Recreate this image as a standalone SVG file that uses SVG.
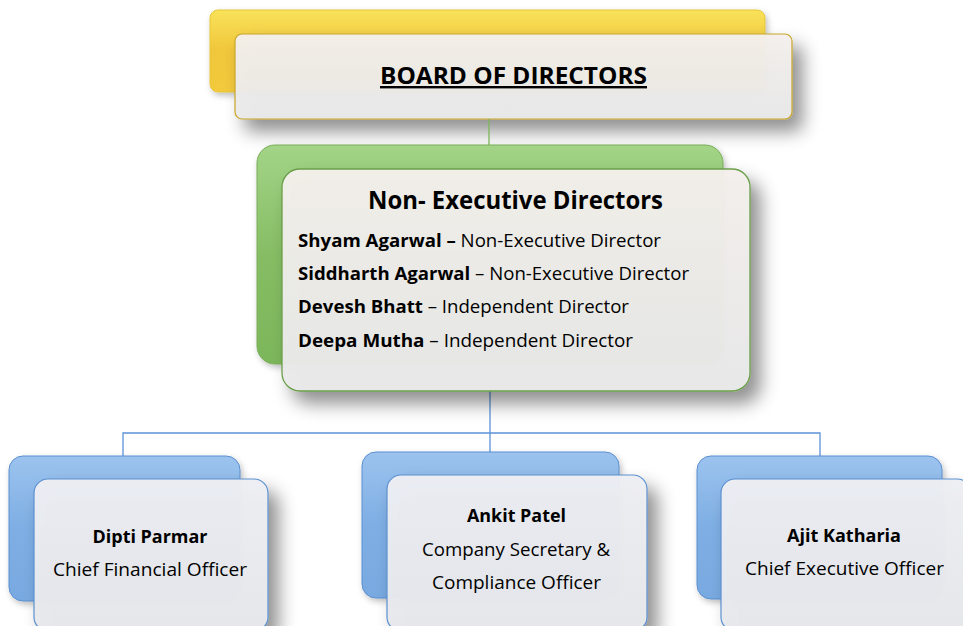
<svg xmlns="http://www.w3.org/2000/svg" width="963" height="626" viewBox="0 0 963 626">
<defs>
<linearGradient id="gy" x1="0" y1="0" x2="0" y2="1"><stop offset="0" stop-color="#f9e25a"/><stop offset="0.5" stop-color="#f0c63a"/><stop offset="1" stop-color="#f3c93c"/></linearGradient>
<linearGradient id="gg" x1="0" y1="0" x2="0" y2="1"><stop offset="0" stop-color="#a3d487"/><stop offset="0.5" stop-color="#86bd64"/><stop offset="1" stop-color="#7cb65a"/></linearGradient>
<linearGradient id="gb" x1="0" y1="0" x2="0" y2="1"><stop offset="0" stop-color="#9cc3ee"/><stop offset="0.5" stop-color="#7eaee4"/><stop offset="1" stop-color="#78a9e0"/></linearGradient>
<linearGradient id="gw" x1="0" y1="0" x2="0" y2="1"><stop offset="0" stop-color="#f4f0ec"/><stop offset="1" stop-color="#e9e9ea"/></linearGradient>
<linearGradient id="gwb" x1="0" y1="0" x2="0" y2="1"><stop offset="0" stop-color="#eeeff3"/><stop offset="1" stop-color="#e7e8ec"/></linearGradient>
<filter id="sh" x="-20%" y="-20%" width="150%" height="160%"><feDropShadow dx="10" dy="12" stdDeviation="9" flood-color="#000" flood-opacity="0.45"/></filter>
<filter id="sh2" x="-20%" y="-20%" width="150%" height="160%"><feDropShadow dx="2" dy="3" stdDeviation="3" flood-color="#000" flood-opacity="0.25"/></filter>
</defs>
<style>
.t{font-family:"Open Sans",Lato,"Liberation Sans",sans-serif;fill:#000}
.b{font-weight:bold}
.c{text-anchor:middle}
.conn{fill:none;stroke-width:1.3}
</style>
<rect width="963" height="626" fill="#fff"/>
<g id="board">
<rect x="210" y="10" width="555" height="82" rx="8" fill="url(#gy)" stroke="#e6c53a" stroke-width="1" filter="url(#sh2)"/>
<rect x="235" y="34" width="557" height="85" rx="7" fill="url(#gw)" fill-opacity="0.96" stroke="#c8a42a" stroke-width="1.2" filter="url(#sh)"/>
<text class="t b c" x="513.5" y="84" font-size="24" textLength="267" lengthAdjust="spacingAndGlyphs" text-decoration="underline">BOARD OF DIRECTORS</text>
</g>
<g id="connectors">
<line class="conn" x1="489" y1="119" x2="489" y2="147" stroke="#7cb65a"/>
<polyline class="conn" points="490,391 490,452" stroke="#5b93d8"/>
<polyline class="conn" points="123,456 123,433 820,433 820,456" stroke="#5b93d8"/>
</g>
<g id="ned">
<rect x="257" y="145" width="466" height="219" rx="18" fill="url(#gg)" stroke="#78ad58" stroke-width="1" filter="url(#sh2)"/>
<rect x="282" y="169" width="468" height="222" rx="18" fill="url(#gw)" fill-opacity="0.96" stroke="#6a9f4a" stroke-width="1.3" filter="url(#sh)"/>
<text class="t b c" x="515.5" y="209" font-size="25" textLength="295" lengthAdjust="spacingAndGlyphs">Non- Executive Directors</text>
<text class="t" x="298" y="247" font-size="18" textLength="363" lengthAdjust="spacingAndGlyphs"><tspan class="b">Shyam Agarwal –</tspan> Non-Executive Director</text>
<text class="t" x="298" y="280" font-size="18" textLength="391" lengthAdjust="spacingAndGlyphs"><tspan class="b">Siddharth Agarwal</tspan> – Non-Executive Director</text>
<text class="t" x="298" y="313" font-size="18" textLength="331" lengthAdjust="spacingAndGlyphs"><tspan class="b">Devesh Bhatt</tspan> – Independent Director</text>
<text class="t" x="298" y="347" font-size="18" textLength="335" lengthAdjust="spacingAndGlyphs"><tspan class="b">Deepa Mutha</tspan> – Independent Director</text>
</g>
<g id="cfo">
<rect x="9" y="456" width="231" height="145" rx="14" fill="url(#gb)" stroke="#5b8fd0" stroke-width="1" filter="url(#sh2)"/>
<rect x="34" y="479" width="234" height="152" rx="14" fill="url(#gwb)" fill-opacity="0.96" stroke="#5b8fd0" stroke-width="1.2" filter="url(#sh)"/>
<text class="t b c" x="150" y="543" font-size="18" textLength="115" lengthAdjust="spacingAndGlyphs">Dipti Parmar</text>
<text class="t c" x="150" y="576" font-size="18" textLength="194" lengthAdjust="spacingAndGlyphs">Chief Financial Officer</text>
</g>
<g id="cs">
<rect x="362" y="452" width="257" height="146" rx="14" fill="url(#gb)" stroke="#5b8fd0" stroke-width="1" filter="url(#sh2)"/>
<rect x="387" y="475" width="260" height="156" rx="14" fill="url(#gwb)" fill-opacity="0.96" stroke="#5b8fd0" stroke-width="1.2" filter="url(#sh)"/>
<text class="t b c" x="516.5" y="522" font-size="18" textLength="99" lengthAdjust="spacingAndGlyphs">Ankit Patel</text>
<text class="t c" x="516" y="556" font-size="18" textLength="188" lengthAdjust="spacingAndGlyphs">Company Secretary &amp;</text>
<text class="t c" x="516.5" y="589" font-size="18" textLength="169" lengthAdjust="spacingAndGlyphs">Compliance Officer</text>
</g>
<g id="ceo">
<rect x="697" y="456" width="245" height="143" rx="14" fill="url(#gb)" stroke="#5b8fd0" stroke-width="1" filter="url(#sh2)"/>
<rect x="721" y="479" width="250" height="152" rx="14" fill="url(#gwb)" fill-opacity="0.96" stroke="#5b8fd0" stroke-width="1.2" filter="url(#sh)"/>
<text class="t b c" x="844" y="542" font-size="18" textLength="114" lengthAdjust="spacingAndGlyphs">Ajit Katharia</text>
<text class="t c" x="844.5" y="575" font-size="18" textLength="199" lengthAdjust="spacingAndGlyphs">Chief Executive Officer</text>
</g>
</svg>
